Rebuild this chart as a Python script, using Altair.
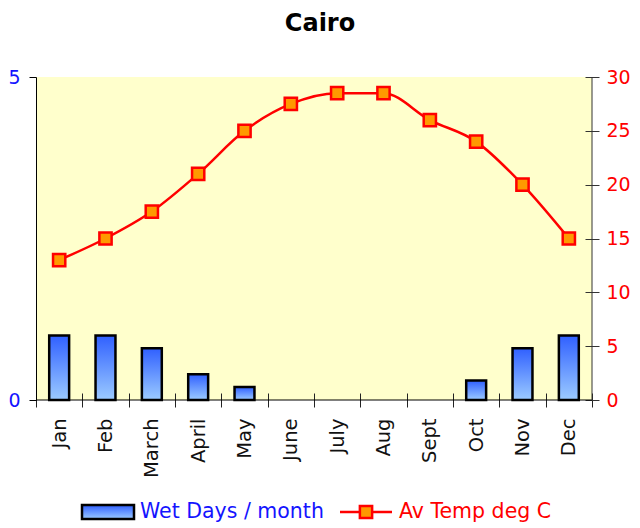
import altair as alt
import pandas as pd

months = ["Jan", "Feb", "March", "April", "May", "June", "July", "Aug", "Sept", "Oct", "Nov", "Dec"]
wet_days = [1.0, 1.0, 0.8, 0.4, 0.2, 0, 0, 0, 0, 0.3, 0.8, 1.0]
temps = [13, 15, 17.5, 21, 25, 27.5, 28.5, 28.5, 26, 24, 20, 15]
left_ticks = [0, 5]
right_ticks = [0, 5, 10, 15, 20, 25, 30]

W, H = 556, 323
FONT = "DejaVu Sans"
BLUE = "#1414FF"
RED = "#FF0000"

df = pd.DataFrame({"month": months, "wet": wet_days, "temp": temps})
one = pd.DataFrame({"a": [0]})

grad = alt.Gradient(
    gradient="linear",
    stops=[alt.GradientStop(color="#3060FF", offset=0), alt.GradientStop(color="#9CCBFF", offset=1)],
    x1=0, x2=0, y1=0, y2=1,
)

x_axis = alt.Axis(
    title=None, labelAngle=-90, labelFontSize=19.5, labelFont=FONT, labelColor="#111",
    tickBand="extent", tickSize=14, offset=-7, domain=False, labelPadding=11,
    tickColor="#222", ticks=True,
)
x_enc = alt.X("month:N", sort=months,
              scale=alt.Scale(domain=months, paddingInner=0, paddingOuter=0), axis=x_axis)

bars = alt.Chart(df).transform_filter("datum.wet > 0").mark_bar(
    width={"band": 0.43}, fill=grad, stroke="black", strokeWidth=2.5
).encode(
    x=x_enc,
    y=alt.Y("wet:Q", scale=alt.Scale(domain=[0, 5], nice=False),
            axis=alt.Axis(title=None, values=left_ticks, orient="left", labelColor=BLUE,
                          labelFontSize=19, labelFont=FONT, tickSize=7, labelPadding=9,
                          domainColor="black", tickColor="black", grid=False)),
)

temp_y = alt.Y("temp:Q", scale=alt.Scale(domain=[0, 30], nice=False),
               axis=alt.Axis(title=None, values=right_ticks, orient="right", labelColor=RED,
                             labelFontSize=19, labelFont=FONT, tickSize=14, offset=-7,
                             labelPadding=7, domain=False, tickColor="#333", grid=False))

line = alt.Chart(df).mark_line(color=RED, strokeWidth=2.5, interpolate="monotone").encode(
    x=x_enc, y=temp_y)
pts = alt.Chart(df).mark_point(shape="square", filled=True, fill="#FF9900", stroke=RED,
                               strokeWidth=2.5, size=150, opacity=1).encode(x=x_enc, y=temp_y)

right_layer = alt.layer(line, pts)

base_rule = alt.Chart(one).mark_rule(color="black", strokeWidth=1).encode(
    x=alt.value(0), x2=alt.value(W), y=alt.value(H))
right_rule = alt.Chart(one).mark_rule(color="#333", strokeWidth=1).encode(
    x=alt.value(W), y=alt.value(0), y2=alt.value(H))

# legend
LY = 435
leg_bar = alt.Chart(one).mark_rect(fill=grad, stroke="black", strokeWidth=2.5).encode(
    x=alt.value(46), x2=alt.value(98), y=alt.value(LY - 7), y2=alt.value(LY + 7))
leg_txt1 = alt.Chart(one).mark_text(text="Wet Days / month", color=BLUE, fontSize=20.5, font=FONT,
                                    align="left", baseline="middle").encode(
    x=alt.value(104), y=alt.value(LY))
leg_line = alt.Chart(one).mark_rule(color=RED, strokeWidth=2.5).encode(
    x=alt.value(304), x2=alt.value(356), y=alt.value(LY))
leg_pt = alt.Chart(one).mark_point(shape="square", filled=True, fill="#FF9900", stroke=RED,
                                   strokeWidth=2.5, size=150, opacity=1).encode(
    x=alt.value(330), y=alt.value(LY))
leg_txt2 = alt.Chart(one).mark_text(text="Av Temp deg C", color=RED, fontSize=20.5, font=FONT,
                                    align="left", baseline="middle").encode(
    x=alt.value(363), y=alt.value(LY))

chart = alt.layer(
    bars, right_layer, base_rule, right_rule,
    leg_bar, leg_txt1, leg_line, leg_pt, leg_txt2,
).resolve_scale(y="independent").properties(
    width=W, height=H,
    title=alt.TitleParams("Cairo", fontSize=24, fontWeight="bold", font=FONT, anchor="middle",
                          color="black", offset=32, dx=6),
    autosize=alt.AutoSizeParams(type="none"),
    padding={"left": 28, "top": 69, "right": 40, "bottom": 124},
).configure_view(fill="#FFFFCC", stroke=None)

chart.save("out.html", embed_options={"renderer": "svg", "actions": False})
